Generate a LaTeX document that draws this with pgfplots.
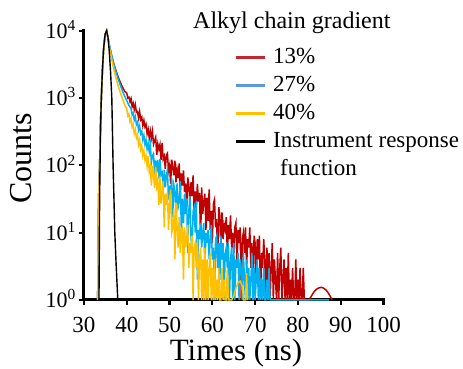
\documentclass[border=0pt]{standalone}
\usepackage{fontspec}
\setmainfont{Liberation Serif}
\usepackage{pgfplots}
\pgfplotsset{compat=1.18}
\definecolor{cred}{HTML}{C00000}
\definecolor{cblue}{HTML}{00B0F0}
\definecolor{cyel}{HTML}{FFC000}
\definecolor{lred}{HTML}{C0282D}
\definecolor{lblue}{HTML}{5B9BD5}
\definecolor{lyel}{HTML}{FFC000}
\begin{document}
\begin{tikzpicture}
\useasboundingbox (0pt,0pt) rectangle (463pt,369pt);
\begin{axis}[
  at={(84pt,69pt)}, anchor=south west,
  scale only axis, width=299.5pt, height=269.3pt,
  xmin=30, xmax=100, ymode=log, ymin=1, ymax=10000,
  axis lines=left, axis line style={-, line width=3pt, line cap=rect},
  xtick={30,40,50,60,70,80,90,100},
  xticklabels={30,40,50,60,70,80,90,100},
  ytick={1,10,100,1000,10000},
  yticklabels={10\textsuperscript{0},10\textsuperscript{1},10\textsuperscript{2},10\textsuperscript{3},10\textsuperscript{4}},
  yminorticks=false,
  tick align=outside, major tick length=5pt,
  tick style={black, line width=2.2pt},
  xticklabel style={font=\fontsize{23}{25}\selectfont, inner sep=0pt, anchor=north, yshift=-12pt},
  yticklabel style={font=\fontsize{22}{24}\selectfont, inner sep=0pt, anchor=base east, xshift=-3pt, yshift=-7.5pt},
  xlabel={Times (ns)},
  ylabel={Counts},
  xlabel style={font=\fontsize{31}{34}\selectfont, at={(axis description cs:0.5075,-0.2265)}, anchor=base, inner sep=0pt},
  ylabel style={font=\fontsize{32}{34}\selectfont, at={(axis description cs:-0.2087,0.527)}, anchor=center, inner sep=0pt},
  clip=false,
  legend image code/.code={\draw[#1] (0pt,0pt) -- (29pt,0pt);},
  legend cell align=left,
  legend style={draw=none, fill=none, at={(axis description cs:0.5008,0.942)}, anchor=north west,
    font=\fontsize{23}{25}\selectfont, inner sep=0pt, row sep=6pt,
    nodes={inner sep=0pt, text height=17pt, text depth=5pt},
    column sep=7pt},
]
\addlegendimage{lred, line width=3pt}
\addlegendentry{13\%}
\addlegendimage{lblue, line width=3pt}
\addlegendentry{27\%}
\addlegendimage{lyel, line width=3pt}
\addlegendentry{40\%}
\addlegendimage{black, line width=3pt}
\addlegendentry{Instrument response}
\addlegendimage{legend image code/.code={}}
\addlegendentry{\hspace*{7pt}function}

% 13%
\addplot[cred, line width=1.5pt, forget plot] coordinates {
(33.2,1) (33.3,10) (33.45,40) (33.65,100) (33.85,400) (34.05,1000) (34.3,2500) (34.55,5000) (34.9,8500) (35.3,10000)
(35.5,8500) (36,5750) (36.5,4170) (37,3160) (37.5,2510) (38,2040) (38.5,1700) (39,1450) (39.5,1260)
(40,1180) (40.25,1000) (40.5,1030) (40.75,880)
(41,980) (41.25,745) (41.5,835) (41.75,675) (42,795) (42.25,615) (42.5,630) (42.75,507) (43,627) (43.25,479) (43.5,518) (43.75,390) (44,465) (44.25,372) (44.5,407) (44.75,293)
(45,342) (45.25,255) (45.5,326) (45.75,255) (46,321) (46.25,206) (46.5,232) (46.75,260) (47,143) (47.25,207) (47.5,174) (47.75,204)
(48,121) (48.25,215) (48.5,124) (48.75,137) (49,89) (49.25,142) (49.5,151) (49.75,83) (50,100) (50.25,53) (50.5,121) (50.75,95)
(51,71) (51.25,117) (51.5,56) (51.75,87) (52,65) (52.25,107) (52.5,37) (52.75,76) (53,50) (53.25,84) (53.5,40) (53.75,54)
(54,24) (54.25,66) (54.5,52) (54.75,27) (55,56) (55.25,35) (55.5,71) (55.75,19) (56,41) (56.25,23) (56.5,53) (56.75,29)
(57,39) (57.25,8) (57.5,47) (57.75,19) (58,29) (58.25,38) (58.5,11) (58.75,33) (59,15) (59.25,44) (59.5,11) (59.75,21)
(60,7) (60.25,27) (60.5,31) (60.75,12) (61,16) (61.25,3) (61.5,24) (61.75,18) (62,7) (62.25,20) (62.5,8) (62.75,13)
(63,11) (63.25,17) (63.5,5) (63.75,13) (64,8) (64.25,18) (64.5,6) (64.75,10) (65,5) (65.25,12) (65.5,14) (65.75,3)
(66,11) (66.25,7) (66.5,12) (66.75,1) (67,8) (67.25,10) (67.5,5) (67.75,12) (68,3) (68.25,8) (68.5,6) (68.75,12)
(69,3) (69.25,7) (69.5,1) (69.75,9) (70,7) (70.25,2) (70.5,8) (70.75,4) (71,9) (71.25,1) (71.5,5) (71.75,3)
(72,8) (72.25,4) (72.5,1) (72.75,6) (73,2) (73.25,5) (73.5,1) (73.75,3) (74,7) (74.25,1) (74.5,4) (74.75,2)
(75,1) (75.25,5) (75.5,1) (75.75,3) (76,6) (76.25,1) (76.5,2) (76.75,4) (77,1) (77.25,3) (77.5,1) (77.75,5)
(78,1) (78.25,2) (78.5,1) (78.75,3) (79,1) (79.25,1) (79.5,4) (79.75,1) (80,2) (80.25,1) (80.5,3) (80.75,1)
(81,1) (81.25,3) (81.5,1) (82,1) (82.5,1) (83,1.1) (83.5,1.25) (84,1.38) (84.5,1.47) (85,1.52) (85.5,1.54) (86,1.5) (86.5,1.42) (87,1.3) (87.5,1.15) (88,1)
};
% 27%
\addplot[cblue, line width=1.5pt, forget plot] coordinates {
(33.2,1) (33.3,10) (33.45,40) (33.65,100) (33.85,400) (34.05,1000) (34.3,2500) (34.55,5000) (34.9,8500) (35.3,10000)
(35.5,8500) (36,5900) (36.5,4170) (37,3090) (37.5,2400) (38,1900) (38.5,1550) (39,1260) (39.5,1070) (40,910) (40.5,776)
(41,700) (41.25,565) (41.5,600) (41.75,470) (42,530) (42.25,405) (42.5,440) (42.75,335) (43,385) (43.25,295) (43.5,320) (43.75,240) (44,280) (44.25,205) (44.5,235) (44.75,175)
(45,211) (45.25,158) (45.5,204) (45.75,111) (46,138) (46.25,149) (46.5,72) (46.75,118) (47,88) (47.25,120) (47.5,64) (47.75,125)
(48,72) (48.25,78) (48.5,42) (48.75,86) (49,47) (49.25,70) (49.5,86) (49.75,31) (50,50) (50.25,37) (50.5,65) (50.75,17)
(51,51) (51.25,42) (51.5,21) (51.75,54) (52,24) (52.25,29) (52.5,58) (52.75,11) (53,32) (53.25,14) (53.5,38) (53.75,19)
(54,32) (54.25,5) (54.5,21) (54.75,35) (55,9) (55.25,5) (55.5,21) (55.75,24) (56,10) (56.25,30) (56.5,2) (56.75,11)
(57,8) (57.25,14) (57.5,6) (57.75,10) (58,14) (58.25,3) (58.5,10) (58.75,7) (59,11) (59.25,4) (59.5,8) (59.75,13)
(60,4) (60.25,6) (60.5,1) (60.75,8) (61,9) (61.25,3) (61.5,7) (61.75,2) (62,9) (62.25,4) (62.5,7) (62.75,1)
(63,5) (63.25,6) (63.5,3) (63.75,7) (64,1) (64.25,4) (64.5,6) (64.75,1) (65,7) (65.25,1) (65.5,4) (65.75,3)
(66,5) (66.25,1) (66.5,4) (66.75,3) (67,1) (67.25,5) (67.5,2) (67.75,1) (68,4) (68.25,1) (68.5,3) (68.75,1)
(69,2) (69.25,5) (69.5,1) (69.75,3) (70,1) (70.25,2) (70.5,4) (70.75,1) (71,3) (71.25,1) (71.5,2) (71.75,1)
(72,3) (72.25,1) (72.5,1) (72.75,2) (73,1) (73.25,3) (73.5,1) (74,1) (87.3,1)
};
% 40%
\addplot[cyel, line width=1.5pt, forget plot] coordinates {
(33.2,1) (33.3,10) (33.45,40) (33.65,100) (33.85,400) (34.05,1000) (34.3,2500) (34.55,5000) (34.9,8500) (35.3,10000)
(35.5,8300) (36,5500) (36.5,3700) (37,2630) (37.5,1950) (38,1510) (38.5,1200) (39,980) (39.5,795)
(40,690) (40.25,545) (40.5,580) (40.75,445) (41,490) (41.25,370) (41.5,405) (41.75,300) (42,340) (42.25,255) (42.5,285) (42.75,205)
(43,240) (43.25,172) (43.5,198) (43.75,140) (44,165) (44.25,120) (44.5,138) (44.75,98)
(45,137) (45.25,81) (45.5,97) (45.75,50) (46,97) (46.25,74) (46.5,46) (46.75,96) (47,49) (47.25,60) (47.5,26) (47.75,65)
(48,27) (48.25,38) (48.5,58) (48.75,12) (49,38) (49.25,26) (49.5,40) (49.75,11) (50,25) (50.25,44) (50.5,10) (50.75,12)
(51,23) (51.25,4) (51.5,28) (51.75,12) (52,6) (52.25,17) (52.5,5) (52.75,11) (53,12) (53.25,2) (53.5,12) (53.75,6)
(54,8) (54.25,13) (54.5,3) (54.75,7) (55,5) (55.25,9) (55.5,1) (55.75,6) (56,7) (56.25,3) (56.5,8) (56.75,1)
(57,4) (57.25,6) (57.5,1) (57.75,4) (58,1) (58.25,6) (58.5,1) (58.75,4) (59,1) (59.25,3) (59.5,5) (59.75,1)
(60,3) (60.25,1) (60.5,4) (60.75,1) (61,2) (61.25,1) (61.5,3) (61.75,1) (62,1) (62.25,3) (62.5,1) (62.75,2)
(63,1) (63.25,1) (63.5,3) (63.75,1) (64.5,1) (65,1.15) (65.5,1.5) (66,1.8) (66.5,1.9) (67,1.6) (67.3,1) (67.75,1) (68,2.5) (68.25,1)
};
% IRF
\addplot[black, line width=1.4pt, forget plot] coordinates {
(33.5,1) (33.65,30) (33.8,200) (34,800) (34.3,2600) (34.6,5600) (34.95,9000) (35.3,10000) (35.6,8000) (35.9,5000) (36.2,2500)
(36.5,1000) (36.65,320) (36.8,100) (37,32) (37.2,10) (37.5,3.5) (37.9,1)
};
\end{axis}
\node[anchor=base west, inner sep=0pt, font=\fontsize{24}{26}\selectfont] at (193pt,340pt) {Alkyl chain gradient};
\end{tikzpicture}
\end{document}
